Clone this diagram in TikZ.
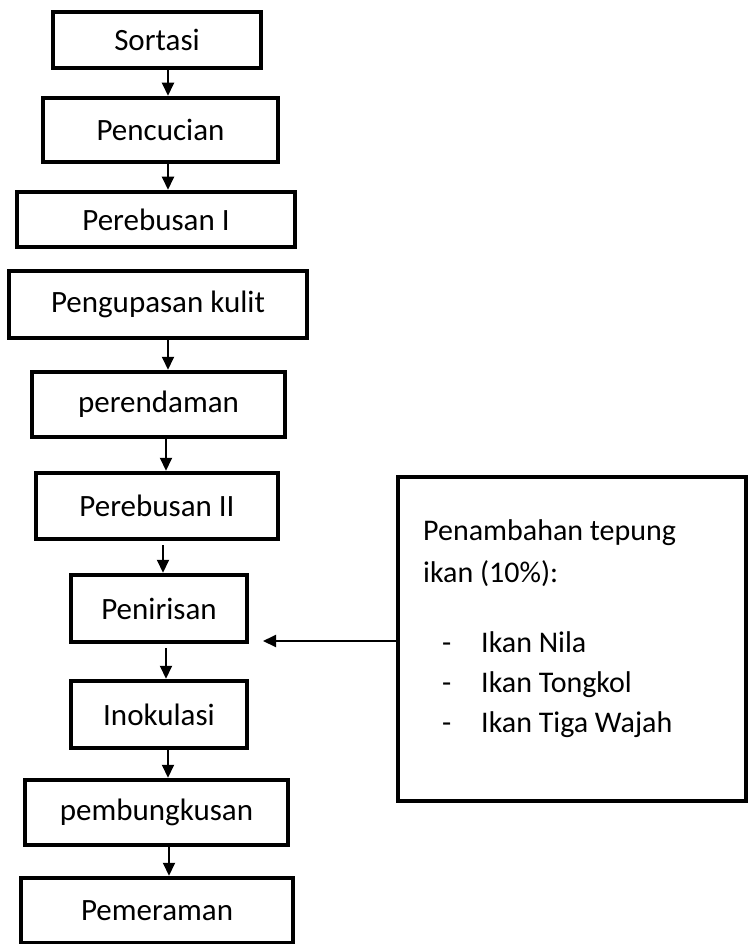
\documentclass[tikz,border=0pt]{standalone}
\usepackage{fontspec}
\setmainfont{Carlito}
\usetikzlibrary{arrows.meta}
\begin{document}
\begin{tikzpicture}[x=1pt,y=-1pt,
  stepbox/.style={draw=black,line width=4.5pt,rectangle,inner sep=0pt,align=center,
    font=\fontsize{31}{37}\selectfont},
  flow/.style={line width=2pt,-{Triangle[length=13pt,width=12pt]}},
  txt/.style={anchor=base west,inner sep=0pt,font=\fontsize{30}{36}\selectfont}]
\useasboundingbox (0,0) rectangle (747,944);
\node[stepbox,minimum width=208pt,minimum height=56pt] (s1) at (157,40) {Sortasi};
\node[stepbox,minimum width=235pt,minimum height=64pt] (s2) at (160.5,130) {Pencucian};
\node[stepbox,minimum width=278pt,minimum height=55pt] (s3) at (156,219.5) {Perebusan I};
\node[stepbox,minimum width=298pt,minimum height=67pt] (s4) at (158,304.5) {Pengupasan kulit};
\node[stepbox,minimum width=253pt,minimum height=65pt] (s5) at (158.5,404.5) {perendaman};
\node[stepbox,minimum width=242pt,minimum height=66pt] (s6) at (157,506) {Perebusan II};
\node[stepbox,minimum width=176pt,minimum height=67pt] (s7) at (159,608.5) {Penirisan};
\node[stepbox,minimum width=176pt,minimum height=67pt] (s8) at (159,714.5) {Inokulasi};
\node[stepbox,minimum width=263pt,minimum height=65pt] (s9) at (156.5,812.5) {pembungkusan};
\node[stepbox,minimum width=272pt,minimum height=65pt] (s10) at (157,910.5) {Pemeraman};
\node[draw=black,line width=4.5pt,rectangle,inner sep=0pt,minimum width=348pt,minimum height=324pt] (rb) at (572,639) {};
\node[txt] (t1) at (423,540) {Penambahan tepung};
\node[txt] (t2) at (423,582) {ikan (10\%):};
\node[txt] (d1) at (442,652) {-};
\node[txt] (d2) at (442,692) {-};
\node[txt] (d3) at (442,732) {-};
\node[txt] (i1) at (481,652) {Ikan Nila};
\node[txt] (i2) at (481,692) {Ikan Tongkol};
\node[txt] (i3) at (481,732) {Ikan Tiga Wajah};
\coordinate (xa) at (168,0);
\coordinate (xb) at (166,0);
\coordinate (xc) at (163,0);
\coordinate (xd) at (169,0);
\coordinate (tip) at (263,641);
\draw[flow] (s1.south -| xa) -- (s2.north -| xa);
\draw[flow] (s2.south -| xa) -- (s3.north -| xa);
\draw[flow] (s4.south -| xa) -- (s5.north -| xa);
\draw[flow] (s5.south -| xb) -- (s6.north -| xb);
\draw[flow,shorten <=4pt] (s6.south -| xc) -- (s7.north -| xc);
\draw[flow,shorten <=4pt] (s7.south -| xb) -- (s8.north -| xb);
\draw[flow] (s8.south -| xa) -- (s9.north -| xa);
\draw[flow] (s9.south -| xd) -- (s10.north -| xd);
\draw[flow] (rb.west |- tip) -- (tip);
\end{tikzpicture}
\end{document}
